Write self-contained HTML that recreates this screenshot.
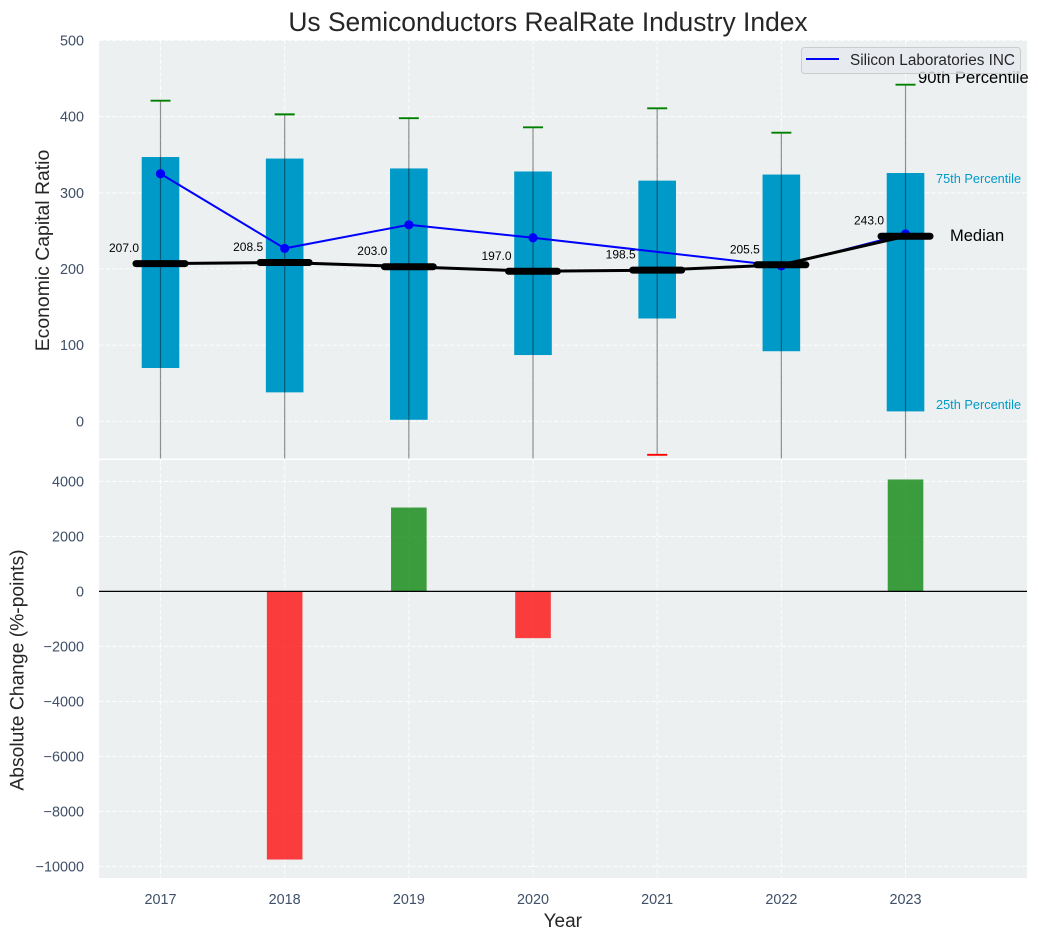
<!DOCTYPE html>
<html>
<head>
<meta charset="utf-8">
<style>
html,body{margin:0;padding:0;background:#fff;}
svg{display:block;font-family:"Liberation Sans",Arial,sans-serif;}
</style>
</head>
<body>
<svg id="chart" width="1038" height="940" viewBox="0 0 1038 940" xmlns="http://www.w3.org/2000/svg">
<defs>
<clipPath id="topClip"><rect x="99" y="40" width="928" height="418.5"></rect></clipPath>
<clipPath id="bottomClip"><rect x="99" y="460" width="928" height="418"></rect></clipPath>
</defs>
<text x="548" y="31" text-anchor="middle" font-size="26.4" fill="#262626">Us Semiconductors RealRate Industry Index</text>
<rect x="99" y="40" width="928" height="418.5" fill="#ecf0f1"></rect>
<rect x="99" y="460" width="928" height="418" fill="#ecf0f1"></rect>
<g id="gridTop"></g>
<g id="gridBottom"></g>
<g id="marksTop" clip-path="url(#topClip)"></g>
<g id="marksBottom" clip-path="url(#bottomClip)"></g>
<g id="ticks"></g>
<text transform="translate(49,250.5) rotate(-90)" text-anchor="middle" font-size="19.4" fill="#262626">Economic Capital Ratio</text>
<text transform="translate(23.5,670) rotate(-90)" text-anchor="middle" font-size="19.3" fill="#262626">Absolute Change (%-points)</text>
<text x="562.8" y="927" text-anchor="middle" font-size="19" fill="#262626">Year</text>
<text x="918" y="83" font-size="16.6" fill="#000">90th Percentile</text>
<text x="936" y="183" font-size="12.75" fill="#009ac9">75th Percentile</text>
<text x="950" y="241" font-size="16.5" fill="#000">Median</text>
<text x="936" y="409" font-size="12.75" fill="#009ac9">25th Percentile</text>
<g>
<rect x="801.5" y="47.5" width="219" height="26" rx="3" fill="#e6e8ee" fill-opacity="0.8" stroke="#cccccc"></rect>
<line x1="806" y1="59" x2="839" y2="59" stroke="#0000ff" stroke-width="2"></line>
<text x="850" y="65" font-size="15.3" fill="#262626">Silicon Laboratories INC</text>
</g>
</svg>
<script>
const years = [2017, 2018, 2019, 2020, 2021, 2022, 2023];
const p90 = [421, 403, 398, 386, 411, 379, 442];
const p75 = [347, 345, 332, 328, 316, 324, 326];
const medians = [207.0, 208.5, 203.0, 197.0, 198.5, 205.5, 243.0];
const p25 = [70, 38, 2, 87, 135, 92, 13];
const p10 = [-120, -130, -160, -100, -44, -90, -150];
const company = [325, 227, 258, 241, null, 204, 246];
const changes = [null, -9750, 3050, -1700, null, null, 4070];
const topTicks = [0, 100, 200, 300, 400, 500];
const bottomTicks = [-10000, -8000, -6000, -4000, -2000, 0, 2000, 4000];

const NS = 'http://www.w3.org/2000/svg';
const xPos = function (year) { return 160.5 + (year - 2017) * 124.17; };
const yTop = function (v) { return 421.3 - v * 0.7616; };
const yBottom = function (v) { return 591.4 - v * 0.0275; };

function add(parent, tag, attrs, text) {
  const el = document.createElementNS(NS, tag);
  for (const k in attrs) { el.setAttribute(k, attrs[k]); }
  if (text !== undefined) { el.textContent = text; }
  parent.appendChild(el);
  return el;
}

const gridTop = document.getElementById('gridTop');
const gridBottom = document.getElementById('gridBottom');
const marksTop = document.getElementById('marksTop');
const marksBottom = document.getElementById('marksBottom');
const ticks = document.getElementById('ticks');
const gridStyle = { stroke: '#ffffff', 'stroke-width': 1.1, 'stroke-dasharray': '4.5 2', 'stroke-opacity': 0.8 };

topTicks.forEach(function (t) {
  const y = yTop(t);
  const g = add(gridTop, 'line', Object.assign({ x1: 99, x2: 1027, y1: y, y2: y }, gridStyle));
  
  
  const lab = add(ticks, 'text', { x: 84, y: y + 5, 'text-anchor': 'end', 'font-size': 14.4, fill: '#3f5068' }, String(t));
  
  
});

bottomTicks.forEach(function (t) {
  const y = yBottom(t);
  const g = add(gridBottom, 'line', Object.assign({ x1: 99, x2: 1027, y1: y, y2: y }, gridStyle));
  
  
  const lab = add(ticks, 'text', { x: 84, y: y + 5, 'text-anchor': 'end', 'font-size': 14.4, fill: '#3f5068' }, String(t).replace('-', '\u2212'));
  
  
});

years.forEach(function (yr) {
  const x = xPos(yr);
  const g1 = add(gridTop, 'line', Object.assign({ x1: x, x2: x, y1: 40, y2: 458.5 }, gridStyle));
  
  
  const g2 = add(gridBottom, 'line', Object.assign({ x1: x, x2: x, y1: 460, y2: 878 }, gridStyle));
  
  
  const lab = add(ticks, 'text', { x: x, y: 904, 'text-anchor': 'middle', 'font-size': 14.4, fill: '#3f5068' }, String(yr));
  
  
});

years.forEach(function (yr, i) {
  const x = xPos(yr);
  const box = add(marksTop, 'rect', { x: x - 18.8, width: 37.6, y: yTop(p75[i]), height: yTop(p25[i]) - yTop(p75[i]), fill: '#009ac9' });
  
  
});

years.forEach(function (yr, i) {
  const x = xPos(yr);
  const stem = add(marksTop, 'line', { x1: x, x2: x, y1: yTop(p90[i]), y2: yTop(p10[i]), stroke: '#000000', 'stroke-opacity': 0.42, 'stroke-width': 1.2 });
  
  
  const capHigh = add(marksTop, 'line', { x1: x - 10, x2: x + 10, y1: yTop(p90[i]), y2: yTop(p90[i]), stroke: '#008000', 'stroke-width': 1.9 });
  
  
  const capLow = add(marksTop, 'line', { x1: x - 10, x2: x + 10, y1: yTop(p10[i]), y2: yTop(p10[i]), stroke: '#ff0000', 'stroke-width': 1.9 });
  
  
});

const companyPts = years.map(function (yr, i) {
  return company[i] === null ? null : xPos(yr) + ',' + yTop(company[i]);
}).filter(Boolean).join(' ');
const companyLine = add(marksTop, 'polyline', { points: companyPts, fill: 'none', stroke: '#0000ff', 'stroke-width': 2 });



years.forEach(function (yr, i) {
  if (company[i] === null) { return; }
  const dot = add(marksTop, 'circle', { cx: xPos(yr), cy: yTop(company[i]), r: 4.6, fill: '#0000ff' });
  
  
});

const medianPts = years.map(function (yr, i) { return xPos(yr) + ',' + yTop(medians[i]); }).join(' ');
const medianLine = add(marksTop, 'polyline', { points: medianPts, fill: 'none', stroke: '#000000', 'stroke-width': 3 });



years.forEach(function (yr, i) {
  const x = xPos(yr);
  const y = yTop(medians[i]);
  const seg = add(marksTop, 'line', { x1: x - 24.5, x2: x + 24.5, y1: y, y2: y, stroke: '#000000', 'stroke-width': 7, 'stroke-linecap': 'round' });
  
  
  const lab = add(marksTop, 'text', { x: x - 21.5, y: y - 11.5, 'text-anchor': 'end', 'font-size': 12, fill: '#000000' }, medians[i].toFixed(1));
  
  
});

years.forEach(function (yr, i) {
  if (changes[i] === null) { return; }
  const x = xPos(yr);
  const y0 = yBottom(0);
  const y1 = yBottom(changes[i]);
  const bar = add(marksBottom, 'rect', { x: x - 17.8, width: 35.6, y: Math.min(y0, y1), height: Math.abs(y1 - y0), fill: changes[i] < 0 ? '#ff0000' : '#008000', 'fill-opacity': 0.75 });
  
  
});

const zero = add(marksBottom, 'line', { x1: 99, x2: 1027, y1: yBottom(0), y2: yBottom(0), stroke: '#000000', 'stroke-width': 1.2 });


</script>
</body>
</html>
